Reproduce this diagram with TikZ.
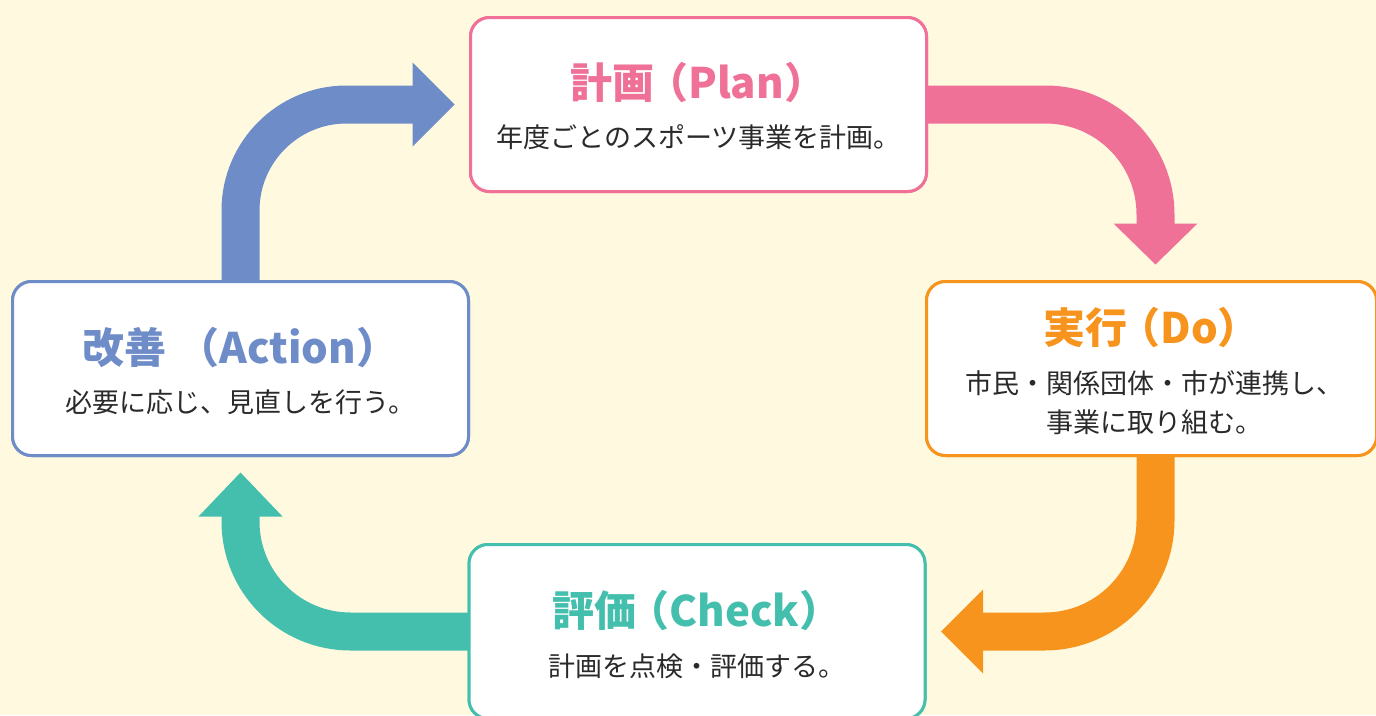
\documentclass[tikz,border=0pt]{standalone}
\usepackage{fontspec}
\setmainfont{Noto Sans CJK JP}
\usetikzlibrary{calc}
\definecolor{bgc}{HTML}{FFFADF}
\definecolor{cPink}{HTML}{F07198}
\definecolor{cOrange}{HTML}{F7941D}
\definecolor{cTeal}{HTML}{45BFAD}
\definecolor{cBlue}{HTML}{6D8CC8}
\definecolor{cText}{HTML}{2A2A2A}
\begin{document}
\begin{tikzpicture}[x=1pt,y=-1pt,
  box/.style={draw, fill=white, line width=3pt, rounded corners=19pt,
    inner sep=0pt, outer sep=0pt, minimum height=174pt},
  ttl/.style={inner sep=0pt, font=\fontsize{42}{46}\selectfont\bfseries},
  bodytxt/.style={inner sep=0pt, text=cText, align=center,
    font=\fontsize{27}{39}\selectfont},
  shaft/.style={line width=38pt, line cap=butt}]
\useasboundingbox (0,0) rectangle (1376,715);
\clip (0,0) rectangle (1376,715);
\fill[bgc] (0,0) rectangle (1376,715);

\path (698.5,104.5) coordinate (pc) (1151.5,368.5) coordinate (dc)
      (697,631.5) coordinate (cc) (240.5,368.5) coordinate (ac);

% boxes (used as anchors for the arrows)
\node[box, minimum width=456pt, draw=cPink] (plan) at (pc) {};
\node[box, minimum width=450pt, draw=cOrange] (do) at (dc) {};
\node[box, minimum width=456pt, draw=cTeal] (check) at (cc) {};
\node[box, minimum width=456pt, draw=cBlue] (act) at (ac) {};

% blue: Action -> Plan
\draw[shaft, cBlue, rounded corners=106pt]
  ($(act.north)+(0,8)$) -- (act.north |- plan.west) -- ($(plan.west)+(-57,0)$);
\fill[cBlue] ($(plan.west)+(-58,-42)$) -- ($(plan.west)+(-16,0)$)
  -- ($(plan.west)+(-58,42)$) -- cycle;
% pink: Plan -> Do
\draw[shaft, cPink, rounded corners=110pt]
  ($(plan.east)+(-8,0)$) -- ($(plan.east -| do.north)+(4,0)$) -- ($(do.north)+(4,-57)$);
\fill[cPink] ($(do.north)+(-38,-58)$) -- ($(do.north)+(4,-17)$)
  -- ($(do.north)+(46,-58)$) -- cycle;
% orange: Do -> Check
\draw[shaft, cOrange, rounded corners=111pt]
  ($(do.south)+(4,-8)$) -- ($(do.south |- check.east)+(4,0)$) -- ($(check.east)+(57,0)$);
\fill[cOrange] ($(check.east)+(58,-42)$) -- ($(check.east)+(16,0)$)
  -- ($(check.east)+(58,42)$) -- cycle;
% teal: Check -> Action
\draw[shaft, cTeal, rounded corners=110pt]
  ($(check.west)+(8,0)$) -- (act.south |- check.west) -- ($(act.south)+(0,60)$);
\fill[cTeal] ($(act.south)+(-42,61)$) -- ($(act.south)+(0,17)$)
  -- ($(act.south)+(42,61)$) -- cycle;

% boxes again, on top of the shaft ends
\node[box, minimum width=456pt, draw=cPink] (plan2) at (pc) {};
\node[box, minimum width=450pt, draw=cOrange] (do2) at (dc) {};
\node[box, minimum width=456pt, draw=cTeal] (check2) at (cc) {};
\node[box, minimum width=456pt, draw=cBlue] (act2) at (ac) {};

% texts
\node[ttl, text=cPink] (plan-t) at ($(plan.center)+(0,-22)$) {計画\kern-.21em（Plan）};
\node[bodytxt] (plan-b) at ($(plan.center)+(0,33)$) {年度ごとのスポーツ事業を計画。};

\node[ttl, text=cOrange] (do-t) at ($(do.center)+(0,-41)$) {実行\kern-.21em（Do）};
\node[bodytxt] (do-b) at ($(do.center)+(3,34)$) {市民・関係団体・市が連携し、\\事業に取り組む。};

\node[ttl, text=cTeal] (check-t) at ($(check.center)+(0,-21)$) {評価\kern-.21em（Check）};
\node[bodytxt] (check-b) at ($(check.center)+(0,35)$) {計画を点検・評価する。};

\node[ttl, text=cBlue] (act-t) at ($(act.center)+(0,-21)$) {改善\kern.26em（Action）};
\node[bodytxt] (act-b) at ($(act.center)+(0,34)$) {必要に応じ、見直しを行う。};
\end{tikzpicture}
\end{document}
